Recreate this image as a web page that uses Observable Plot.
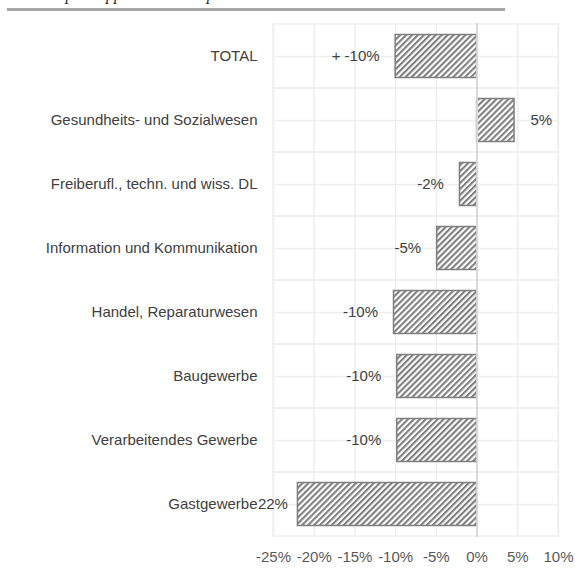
<!DOCTYPE html>
<html>
<head>
<meta charset="utf-8">
<script src="https://cdn.jsdelivr.net/npm/d3@7"></script>
<script src="https://cdn.jsdelivr.net/npm/@observablehq/plot@0.6"></script>
<style>
  html, body { margin: 0; padding: 0; background: #fff; }
  #wrap { position: relative; width: 575px; height: 569px; overflow: hidden; }
  #head { position: relative; height: 12px; overflow: hidden; }
  #head .t { position: absolute; left: 2px; top: -14px; font: italic 16px "Liberation Serif", serif; color: #222; white-space: nowrap; }
  #head .rule { position: absolute; left: 7px; width: 498px; top: 8px; height: 3px; background: #a6a6a6; }
  svg { display: block; }
</style>
</head>
<body>
<div id="wrap">
  <div id="head"><span class="t">Variation par rapport à l'année passée</span><div class="rule"></div></div>
  <div id="chart"></div>
</div>
<script>
// Branches, top to bottom
const categories = [
  "TOTAL",
  "Gesundheits- und Sozialwesen",
  "Freiberufl., techn. und wiss. DL",
  "Information und Kommunikation",
  "Handel, Reparaturwesen",
  "Baugewerbe",
  "Verarbeitendes Gewerbe",
  "Gastgewerbe"
];
// Change in percent
const values = [-10, 4.6, -2.1, -4.9, -10.2, -9.8, -9.8, -22];
// Data labels as printed next to the bars
const valueLabels = ["+ -10%", "5%", "-2%", "-5%", "-10%", "-10%", "-10%", "22%"];
// Axis ticks (percent)
const xTicks = [-25, -20, -15, -10, -5, 0, 5, 10];

const rows = categories.map((c, i) => ({cat: c, value: values[i], label: valueLabels[i]}));
const last = rows[rows.length - 1];
const body = rows.slice(0, -1);
const negRows = body.filter(d => d.value < 0);
const posRows = body.filter(d => d.value >= 0);

const gridColor = "#efefef";
const barColor = "#7f7f7f";
const fs = 15;

const chart = Plot.plot({
  width: 575,
  height: 557,
  marginTop: 11,
  marginBottom: 32,
  marginLeft: 273,
  marginRight: 17,
  style: {fontFamily: "'Liberation Sans', Arial, sans-serif", fontSize: fs + "px", color: "#595959", background: "#fff"},
  x: {domain: [-25, 10], label: null},
  y: {domain: categories, padding: 0, label: null},
  marks: [
    // vertical grid
    Plot.ruleX(xTicks, {stroke: gridColor, strokeWidth: 1.5}),
    // horizontal grid: band boundaries and band centres
    Plot.barX(categories, {x1: -25, x2: 10, y: d => d, fill: "none", stroke: gridColor, strokeWidth: 1.5}),
    Plot.ruleY(categories, {stroke: gridColor, strokeWidth: 1.5}),
    // bars
    Plot.barX(rows, {x: "value", y: "cat", insetTop: 10.5, insetBottom: 10.5, fill: "url(#hatch)", stroke: barColor, strokeWidth: 1.5}),
    // zero line
    Plot.ruleX([0], {stroke: "#d9d9d9", strokeWidth: 2}),
    // value labels: left of negative bars, right of positive ones
    Plot.text(negRows, {x: "value", y: "cat", text: "label", textAnchor: "end", dx: -16, fill: "#404040", fontSize: fs}),
    Plot.text(posRows, {x: "value", y: "cat", text: "label", textAnchor: "start", dx: 16, fill: "#404040", fontSize: fs}),
    Plot.text([last], {x: "value", y: "cat", text: "label", textAnchor: "end", dx: -10, fill: "#404040", fontSize: fs}),
    Plot.axisX({ticks: xTicks, tickFormat: d => d + "%", tickSize: 0, tickPadding: 14, fill: "#595959", fontSize: fs, label: null}),
    Plot.axisY({tickSize: 0, tickPadding: 16, fill: "#404040", fontSize: fs, label: null})
  ]
});

// Diagonal hatching used by the bars
const svg = d3.select(chart);
const defs = svg.insert("defs", ":first-child");
const pat = defs.append("pattern")
  .attr("id", "hatch")
  .attr("patternUnits", "userSpaceOnUse")
  .attr("width", 4.2).attr("height", 4.2)
  .attr("patternTransform", "rotate(45)");
pat.append("rect").attr("width", 4.2).attr("height", 4.2).attr("fill", "#fff");
pat.append("rect").attr("width", 2.1).attr("height", 4.2).attr("fill", barColor);

document.getElementById("chart").appendChild(chart);
</script>
</body>
</html>
